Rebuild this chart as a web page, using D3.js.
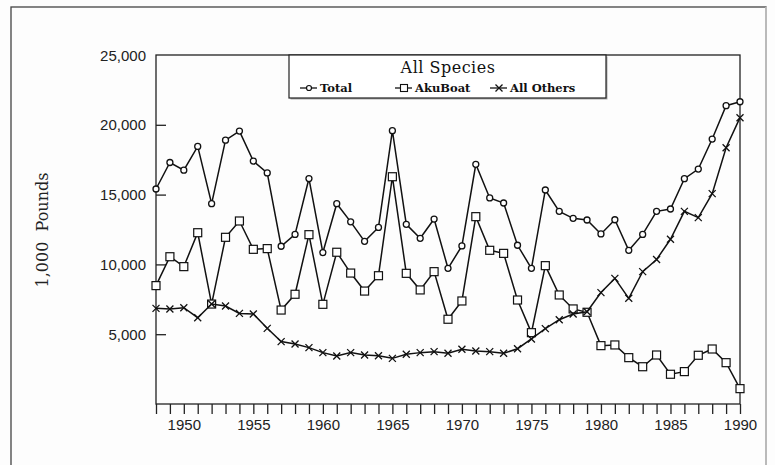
<!DOCTYPE html>
<html>
<head>
<meta charset="utf-8">
<script src="https://cdn.jsdelivr.net/npm/d3@7/dist/d3.min.js"></script>
<style>
  html, body { margin: 0; padding: 0; background: #fdfdfd; }
  svg { display: block; }
</style>
</head>
<body>
<svg id="chart" width="775" height="465"></svg>
<script>
const years = d3.range(1948, 1991);
const total = [15400,17300,16750,18450,14350,18900,19550,17400,16550,11300,12150,16150,10850,14350,13050,11650,12650,19580,12870,11870,13250,9720,11320,17170,14760,14400,11370,9720,15330,13800,13300,13180,12180,13200,11010,12150,13800,13970,16140,16830,18980,21370,21650];
const akuBoat = [8480,10550,9840,12270,7160,11940,13110,11080,11130,6730,7860,12130,7140,10870,9380,8090,9190,16280,9360,8170,9480,6070,7380,13420,11010,10790,7450,5110,9910,7810,6810,6570,4180,4230,3320,2670,3510,2130,2320,3490,3940,2960,1100];
const allOthers = [6850,6810,6900,6180,7160,7020,6490,6450,5420,4470,4300,4040,3680,3440,3680,3510,3460,3270,3560,3680,3750,3630,3920,3800,3750,3630,3960,4660,5400,6040,6450,6610,7980,9000,7570,9480,10350,11800,13800,13350,15070,18360,20510];
const seriesNames = ["Total", "AkuBoat", "All Others"];
const yTicks = [5000, 10000, 15000, 20000];
const yLabels = [5000, 10000, 15000, 20000, 25000];
const xLabels = [1950, 1955, 1960, 1965, 1970, 1975, 1980, 1985, 1990];
const chartTitle = "All Species";
const yTitle = "1,000\u00a0\u00a0Pounds";

const svg = d3.select("#chart");
const L = 156, R = 740, T = 55, B = 404;

const x = d3.scaleLinear().domain([1948, 1990]).range([L, R]);
const y = d3.scaleLinear().domain([0, 25000]).range([B, T]);

// outer frame
svg.append("rect").attr("x", 11).attr("y", 7).attr("width", 755).attr("height", 470)
  .attr("fill", "none").attr("stroke", "#444").attr("stroke-width", 1.3);
svg.append("line").attr("x1", 766).attr("x2", 766).attr("y1", 7).attr("y2", 465)
  .attr("stroke", "#ccc").attr("stroke-width", 1.5);

// plot frame
svg.append("rect").attr("x", L).attr("y", T).attr("width", R - L).attr("height", B - T)
  .attr("fill", "none").attr("stroke", "#222").attr("stroke-width", 1.3);

// y axis
const yAxis = d3.axisLeft(y).tickValues(yTicks).tickSize(-10).tickFormat("");
const gy = svg.append("g").attr("transform", `translate(${L},0)`).call(yAxis);
gy.select(".domain").remove();
gy.selectAll(".tick line").attr("stroke", "#222").attr("stroke-width", 1.3);

svg.append("g").selectAll("text").data(yLabels).join("text")
  .attr("x", L - 10).attr("y", d => y(d) + 5.5)
  .attr("text-anchor", "end")
  .attr("font-family", "Liberation Sans, Arial, sans-serif")
  .attr("font-size", 15).attr("fill", "#222")
  .text(d => d3.format(",")(d));

// x axis
const xAxis = d3.axisBottom(x).tickValues(years).tickSize(10).tickFormat(d => xLabels.includes(d) ? d : "");
const gx = svg.append("g").attr("transform", `translate(0,${B})`).call(xAxis);
gx.select(".domain").remove();
gx.selectAll(".tick line").attr("stroke", "#222").attr("stroke-width", 1.3);
gx.selectAll(".tick text").attr("font-family", "Liberation Sans, Arial, sans-serif")
  .attr("font-size", 15).attr("fill", "#222").attr("dy", "1.05em").attr("y", 10);

// y title
svg.append("text")
  .attr("transform", "translate(48,230) rotate(-90)")
  .attr("text-anchor", "middle")
  .attr("font-family", "DejaVu Serif, serif")
  .attr("font-size", 16).attr("fill", "#222")
  .text(yTitle);

// series
const data = [total, akuBoat, allOthers];
const line = d3.line().x((d, i) => x(years[i])).y(d => y(d));

function drawMarker(g, type, cx, cy) {
  if (type === 0) {
    g.append("circle").attr("cx", cx).attr("cy", cy).attr("r", 3)
      .attr("fill", "#fff").attr("stroke", "#111").attr("stroke-width", 1.3);
  } else if (type === 1) {
    g.append("rect").attr("x", cx - 4).attr("y", cy - 4).attr("width", 8).attr("height", 8)
      .attr("fill", "#fff").attr("stroke", "#111").attr("stroke-width", 1.2);
  } else {
    const s = 3.5;
    g.append("path").attr("d", `M${cx - s},${cy - s}L${cx + s},${cy + s}M${cx - s},${cy + s}L${cx + s},${cy - s}`)
      .attr("stroke", "#111").attr("stroke-width", 1.3).attr("fill", "none");
  }
}

data.forEach((vals, k) => {
  const g = svg.append("g");
  g.append("path").datum(vals).attr("d", line)
    .attr("fill", "none").attr("stroke", "#111").attr("stroke-width", 1.5);
  vals.forEach((v, i) => drawMarker(g, k, x(years[i]), y(v)));
});

// legend
const lg = svg.append("g");
lg.append("rect").attr("x", 290.5).attr("y", 56.5).attr("width", 317).attr("height", 43)
  .attr("fill", "#aaa");
lg.append("rect").attr("x", 289).attr("y", 55).attr("width", 317).attr("height", 43)
  .attr("fill", "#fff").attr("stroke", "#222").attr("stroke-width", 1.2);
lg.append("text").attr("x", 448).attr("y", 73).attr("text-anchor", "middle")
  .attr("font-family", "DejaVu Serif, serif").attr("font-size", 16)
  .attr("letter-spacing", 0.5).attr("fill", "#111").text(chartTitle);
const legX = [300, 395, 490];
seriesNames.forEach((name, k) => {
  const lx = legX[k];
  lg.append("line").attr("x1", lx).attr("x2", lx + 17).attr("y1", 88).attr("y2", 88)
    .attr("stroke", "#111").attr("stroke-width", 1.3);
  const mg = lg.append("g");
  if (k === 0) {
    mg.append("circle").attr("cx", lx + 9).attr("cy", 88).attr("r", 2.5)
      .attr("fill", "#fff").attr("stroke", "#111").attr("stroke-width", 1.2);
  } else if (k === 1) {
    mg.append("rect").attr("x", lx + 5.5).attr("y", 84.5).attr("width", 7).attr("height", 7)
      .attr("fill", "#fff").attr("stroke", "#111").attr("stroke-width", 1.1);
  } else {
    drawMarker(mg, 2, lx + 9, 88);
  }
  lg.append("text").attr("x", lx + 20).attr("y", 92)
    .attr("font-family", "DejaVu Serif, serif").attr("font-weight", "bold")
    .attr("font-size", 11.5).attr("fill", "#111").text(name);
});
</script>
</body>
</html>
